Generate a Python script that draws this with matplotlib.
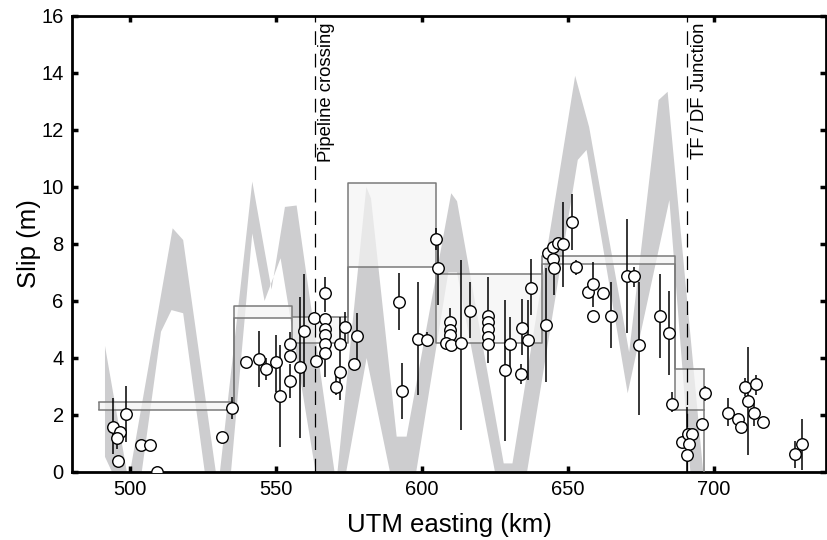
import matplotlib
matplotlib.use("Agg")
import matplotlib.pyplot as plt
import numpy as np

plt.rcParams['font.family'] = ['Liberation Sans', 'DejaVu Sans']

# grey band: upper and lower outline (km, slip)
band_up_x = [491.3, 498.8, 499.9, 514.5, 518.1, 529.3, 530.7, 541.8, 548.4, 553.0, 557.0,
             570.0, 571.0, 580.9, 582.5, 591.3, 594.7, 610.0, 612.0, 628.0, 631.0, 652.5,
             657.3, 671.0, 681.1, 684.2, 696.4]
band_up_y = [4.42, 0.0, 0.0, 8.55, 8.14, 0.0, 0.0, 10.19, 6.4, 9.3, 9.35,
             0.0, 0.0, 10.0, 9.6, 1.24, 1.24, 9.78, 9.5, 0.3, 0.3, 13.9,
             12.1, 4.2, 13.05, 13.34, 0.0]
band_lo_x = [491.3, 493.7, 503.9, 510.5, 514.1, 518.1, 525.5, 534.5, 541.8, 546.0, 551.5,
             563.5, 574.0, 581.0, 589.0, 598.0, 609.0, 612.0, 625.0, 636.0, 653.4, 656.4,
             670.5, 684.8, 692.0]
band_lo_y = [0.53, 0.0, 0.0, 4.92, 5.68, 5.57, 0.0, 0.0, 8.37, 6.0, 7.5,
             0.0, 0.0, 4.0, 0.0, 0.0, 7.0, 7.0, 0.0, 0.0, 10.95, 11.3,
             2.76, 9.54, 0.0]

# segment boxes
box_edges = [489.4, 535.5, 555.5, 574.6, 604.8, 641.1, 686.6, 696.8]
box_upper = [2.47, 5.84, 5.43, 10.14, 6.95, 7.58, 3.60]
box_lower = [2.18, 5.41, 4.53, 7.19, 4.52, 7.30, 2.18]

# slip measurements (km, slip, lower bound, upper bound)
pt_x = [494.1, 496.4, 495.5, 498.5, 495.6, 503.6, 506.9, 509.3, 531.4, 534.9,
        539.8, 544.0, 546.4, 549.8, 551.2, 554.7, 554.9, 554.9, 558.1, 559.6,
        563.0, 563.5, 566.6, 566.6, 566.6, 566.6, 566.6, 566.6, 570.6, 572.0,
        572.0, 573.7, 576.7, 577.8, 592.0, 593.0, 598.5, 601.7, 604.7, 605.5,
        609.5, 609.5, 609.5, 608.3, 610.0, 613.5, 616.5, 622.6, 622.6, 622.6,
        622.6, 622.6, 630.0, 628.3, 633.8, 634.2, 636.3, 637.4, 642.6, 643.1,
        644.8, 644.8, 645.2, 646.5, 648.3, 651.3, 652.8, 656.8, 658.5, 658.5,
        662.2, 664.8, 670.2, 672.6, 674.5, 681.6, 684.8, 685.7, 689.1, 691.1,
        692.6, 691.6, 690.8, 696.0, 697.0, 704.8, 708.4, 709.2, 710.7, 711.9,
        714.5, 713.9, 716.8, 727.7, 730.1]
pt_y = [1.59, 1.40, 1.18, 2.03, 0.39, 0.94, 0.94, 0.0, 1.21, 2.25,
        3.87, 3.96, 3.61, 3.85, 2.68, 4.48, 4.08, 3.19, 3.67, 4.96,
        5.39, 3.89, 6.27, 5.37, 5.0, 4.81, 4.48, 4.19, 2.99, 4.48,
        3.52, 5.08, 3.78, 4.78, 5.98, 2.84, 4.67, 4.63, 8.18, 7.15,
        5.27, 4.98, 4.81, 4.54, 4.46, 4.54, 5.66, 5.49, 5.27, 5.02,
        4.75, 4.48, 4.48, 3.58, 3.43, 5.06, 4.63, 6.47, 5.16, 7.67,
        7.88, 7.47, 7.17, 8.05, 7.99, 8.78, 7.18, 6.33, 6.58, 5.49,
        6.27, 5.49, 6.89, 6.89, 4.46, 5.49, 4.87, 2.39, 1.06, 1.32,
        1.32, 0.98, 0.58, 1.67, 2.78, 2.08, 1.85, 1.59, 2.97, 2.49,
        3.08, 2.08, 1.74, 0.62, 0.97]
pt_lo = [0.62, 1.2, 0.8, 1.06, 0.39, 0.94, 0.94, 0.0, 1.21, 1.86,
         3.87, 2.99, 3.23, 2.82, 0.89, 4.2, 4.08, 2.6, 1.19, 2.99,
         5.39, 3.89, 5.6, 5.37, 5.0, 4.81, 4.48, 3.34, 2.7, 2.53,
         3.52, 4.6, 3.78, 3.82, 4.98, 1.86, 2.7, 4.4, 7.79, 5.86,
         5.27, 4.98, 4.81, 4.54, 4.46, 1.47, 4.7, 5.49, 5.27, 5.02,
         4.75, 3.82, 3.69, 1.1, 3.1, 4.1, 3.23, 5.51, 3.17, 7.67,
         7.88, 7.47, 6.21, 8.05, 6.5, 7.79, 6.9, 6.33, 5.8, 5.49,
         6.27, 4.35, 4.88, 6.5, 2.0, 3.99, 3.4, 2.1, 1.06, 1.32,
         1.32, 0.98, 0.0, 1.67, 2.5, 1.6, 1.85, 1.59, 2.65, 0.6,
         2.7, 1.6, 1.74, 0.15, 0.07]
pt_hi = [2.6, 1.6, 1.4, 3.02, 0.39, 0.94, 0.94, 0.0, 1.21, 2.64,
         3.87, 4.93, 4.0, 4.81, 4.46, 4.92, 4.08, 3.8, 6.15, 6.95,
         5.39, 3.89, 6.85, 5.37, 5.0, 4.81, 4.48, 4.19, 3.5, 5.45,
         3.52, 5.6, 3.78, 5.58, 6.98, 3.82, 6.68, 4.9, 8.56, 8.14,
         5.75, 4.98, 4.81, 4.54, 4.46, 7.44, 6.68, 6.85, 5.27, 5.02,
         4.75, 4.48, 5.45, 6.04, 3.8, 6.07, 6.03, 7.47, 7.16, 7.67,
         7.88, 7.47, 7.9, 8.05, 9.48, 9.75, 7.45, 6.33, 7.37, 5.49,
         6.27, 6.68, 8.88, 7.2, 6.68, 6.95, 6.35, 2.8, 1.06, 1.32,
         1.32, 0.98, 2.28, 1.67, 3.0, 2.6, 1.85, 1.59, 3.3, 4.38,
         3.4, 2.5, 1.74, 1.1, 1.86]

pipeline_km = 563.2
junction_km = 691.0

fig = plt.figure(figsize=(8.28, 5.4), dpi=100)
ax = fig.add_axes([0.087, 0.126, 0.9106, 0.8444])

# band
poly_x = list(band_up_x) + list(band_lo_x[::-1])
poly_y = list(band_up_y) + list(band_lo_y[::-1])
ax.fill(poly_x, poly_y, color='#cdcdcf', lw=0, zorder=1)

# boxes
up_ext = box_upper + [box_upper[-1]]
lo_ext = box_lower + [box_lower[-1]]
ax.fill_between(box_edges, lo_ext, up_ext, step='post', color='#f4f4f4', alpha=0.7,
                lw=0, zorder=2)
ax.step(box_edges, up_ext, where='post', color='#7a7a7a', lw=1.1, zorder=3)
ax.step(box_edges, lo_ext, where='post', color='#7a7a7a', lw=1.1, zorder=3)
ax.vlines(box_edges[0], box_lower[0], box_upper[0], color='#7a7a7a', lw=1.1, zorder=3)
ax.vlines(box_edges[-1], 0, box_upper[-1], color='#7a7a7a', lw=1.1, zorder=3)

# reference lines
for xk, lab in [(pipeline_km, 'Pipeline crossing'), (junction_km, 'TF / DF Junction')]:
    ax.axvline(xk, color='black', lw=0.9, dashes=(11, 7), zorder=4)
    ax.annotate(lab, xy=(xk, 1), xycoords=('data', 'axes fraction'),
                xytext=(2.5, -5), textcoords='offset points', rotation=90,
                ha='left', va='top', fontsize=13.3)

# points
y = np.array(pt_y)
yerr = [y - np.array(pt_lo), np.array(pt_hi) - y]
ax.errorbar(pt_x, pt_y, yerr=yerr, fmt='o', ms=8.3, mfc='white', mec='black', mew=1,
            ecolor='black', elinewidth=1.1, capsize=0, zorder=5)

ax.set_xlim(480, 738.5)
ax.set_ylim(0, 16)
ax.set_xticks([500, 550, 600, 650, 700])
ax.set_yticks(np.arange(0, 17, 2))
ax.tick_params(direction='in', length=4, width=2.5, top=True, right=True,
               labelsize=14.5, pad=6)
for s in ax.spines.values():
    s.set_linewidth(2)
ax.set_xlabel('UTM easting (km)', fontsize=18.5, labelpad=10)
ax.set_ylabel('Slip (m)', fontsize=18.5, labelpad=0)

fig.savefig('out.png', dpi=100)
